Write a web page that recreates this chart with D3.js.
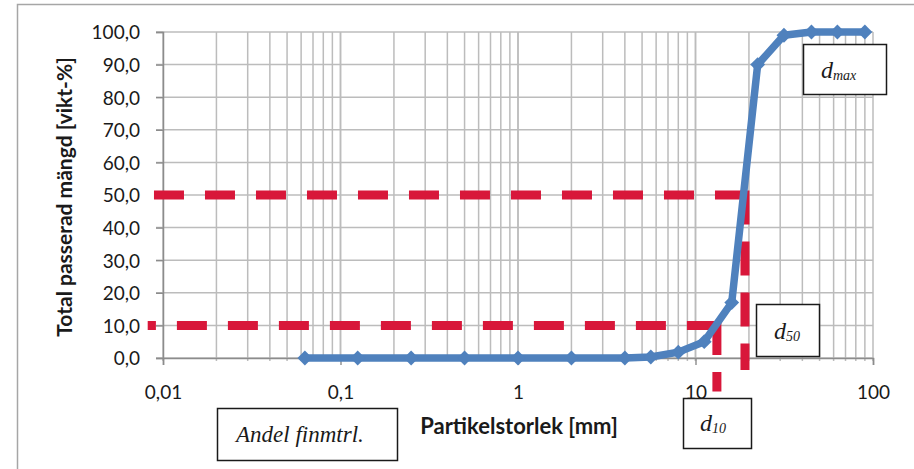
<!DOCTYPE html>
<html>
<head>
<meta charset="utf-8">
<script src="https://cdn.jsdelivr.net/npm/d3@7"></script>
<style>
  body { margin: 0; background: #fff; }
  svg { display: block; }
</style>
</head>
<body>
<svg id="chart"></svg>
<script>
// sieve sizes [mm] and passing percentage
var sizes = [0.063, 0.125, 0.25, 0.5, 1, 2, 4, 5.6, 8, 11.2, 16, 22.4, 31.5, 45, 63, 90];
var passing = [0, 0, 0, 0, 0, 0, 0, 0.3, 1.8, 5, 17, 90, 99, 100, 100, 100];
var yTicks = [0, 10, 20, 30, 40, 50, 60, 70, 80, 90, 100];
var xTicks = [0.01, 0.1, 1, 10, 100];
// helper lines: d value, percent, and where the vertical part ends
var refD = [13.2, 19];
var refP = [10, 50];
var refYEnd = [-10.3, -3.7];
var refXStart = 0.0082;

var width = 914, height = 469;
var svg = d3.select("#chart").attr("width", width).attr("height", height);
var font = "Lato, 'Open Sans', sans-serif";

var x = d3.scaleLog().domain([0.01, 100]).range([163, 873]);
var y = d3.scaleLinear().domain([0, 100]).range([358, 32]);

// outer chart frame (only top and left visible)
svg.append("path").attr("d", "M17.5,469 L17.5,4.5 L914,4.5")
  .attr("fill", "none").attr("stroke", "#a6a6a6").attr("stroke-width", 1.5);

// grid
var minor = [];
for (var e = -2; e < 2; e++) {
  for (var k = 1; k <= 10; k++) minor.push(k * Math.pow(10, e));
}
var grid = svg.append("g");
grid.selectAll("line.v").data(minor).enter().append("line")
  .attr("x1", function(d) { return x(d); }).attr("x2", function(d) { return x(d); })
  .attr("y1", y(100)).attr("y2", y(0) + 3)
  .attr("stroke", "#bcbcbc").attr("stroke-width", 1.5);
grid.selectAll("line.h").data(yTicks).enter().append("line")
  .attr("x1", x(0.01) - 7).attr("x2", x(100))
  .attr("y1", function(d) { return y(d); }).attr("y2", function(d) { return y(d); })
  .attr("stroke", "#bcbcbc").attr("stroke-width", 1.5);

// axes
var yAxis = svg.append("g").attr("transform", "translate(" + x(0.01) + ",0)")
  .call(d3.axisLeft(y).tickValues(yTicks).tickSize(7).tickPadding(16)
    .tickFormat(function(d) { return d.toFixed(1).replace(".", ","); }));
var xAxis = svg.append("g").attr("transform", "translate(0," + y(0) + ")")
  .call(d3.axisBottom(x).tickValues(xTicks).tickSize(7).tickPadding(21)
    .tickFormat(function(d) { return String(d).replace(".", ","); }));
[xAxis, yAxis].forEach(function(a) {
  a.select(".domain").attr("stroke", "#8c8c8c").attr("stroke-width", 1.5);
  a.selectAll(".tick line").attr("stroke", "#8c8c8c").attr("stroke-width", 1.4);
  a.selectAll(".tick text").attr("font-family", font).attr("font-size", 19).attr("fill", "#1a1a1a");
});
yAxis.selectAll(".tick text").attr("dy", "0.36em");

// red helper lines, drawn from the corner outwards
var red = "#d8173a";
var refs = svg.append("g");
refD.forEach(function(d, i) {
  refs.append("line")
    .attr("x1", x(d)).attr("y1", y(refP[i])).attr("x2", x(refXStart)).attr("y2", y(refP[i]))
    .attr("stroke", red).attr("stroke-width", 9).attr("stroke-dasharray", "30,21");
  refs.append("line")
    .attr("x1", x(d)).attr("y1", y(refP[i]) - 4.5).attr("x2", x(d)).attr("y2", y(refYEnd[i]))
    .attr("stroke", red).attr("stroke-width", 9).attr("stroke-dasharray", "34,17");
});

// grading curve
var pts = sizes.map(function(s, i) { return [s, passing[i]]; });
var blue = "#4f81bd";
svg.append("path").datum(pts)
  .attr("d", d3.line().x(function(d) { return x(d[0]); }).y(function(d) { return y(d[1]); }))
  .attr("fill", "none").attr("stroke", blue).attr("stroke-width", 7.5).attr("stroke-linejoin", "round");
svg.append("g").selectAll("path").data(pts).enter().append("path")
  .attr("d", d3.symbol().type(d3.symbolDiamond2).size(140))
  .attr("transform", function(d) { return "translate(" + x(d[0]) + "," + y(d[1]) + ")"; })
  .attr("fill", blue);

// axis titles
svg.append("text").text("Total passerad mängd [vikt-%]")
  .attr("transform", "translate(72,197) rotate(-90)")
  .attr("text-anchor", "middle").attr("font-family", font).attr("font-weight", "bold")
  .attr("font-size", 21).attr("fill", "#1a1a1a");
svg.append("text").text("Partikelstorlek [mm]")
  .attr("x", 519).attr("y", 434)
  .attr("text-anchor", "middle").attr("font-family", font).attr("font-weight", "bold")
  .attr("font-size", 22).attr("fill", "#1a1a1a");

// annotation boxes
var serif = "'Liberation Serif', 'DejaVu Serif', serif";
var boxes = [
  { x0: 217, y0: 408, w: 180, h: 52, main: "Andel finmtrl.", sub: "", tx: 236, ty: 442, fs: 23 },
  { x0: 803, y0: 44, w: 83, h: 50, main: "d", sub: "max", tx: 821, ty: 78, fs: 24 },
  { x0: 756, y0: 304, w: 63, h: 52, main: "d", sub: "50", tx: 774, ty: 339, fs: 24 },
  { x0: 683, y0: 398, w: 68, h: 50, main: "d", sub: "10", tx: 700, ty: 431, fs: 24 }
];
boxes.forEach(function(b) {
  svg.append("rect").attr("x", b.x0 + 0.5).attr("y", b.y0 + 0.5).attr("width", b.w).attr("height", b.h)
    .attr("fill", "#fff").attr("stroke", "#1a1a1a").attr("stroke-width", 1.5);
  var t = svg.append("text").attr("x", b.tx).attr("y", b.ty)
    .attr("font-family", serif).attr("font-style", "italic").attr("fill", "#1a1a1a");
  t.append("tspan").text(b.main).attr("font-size", b.fs);
  if (b.sub) t.append("tspan").text(b.sub).attr("font-size", 14).attr("dy", 2);
});
</script>
</body>
</html>
